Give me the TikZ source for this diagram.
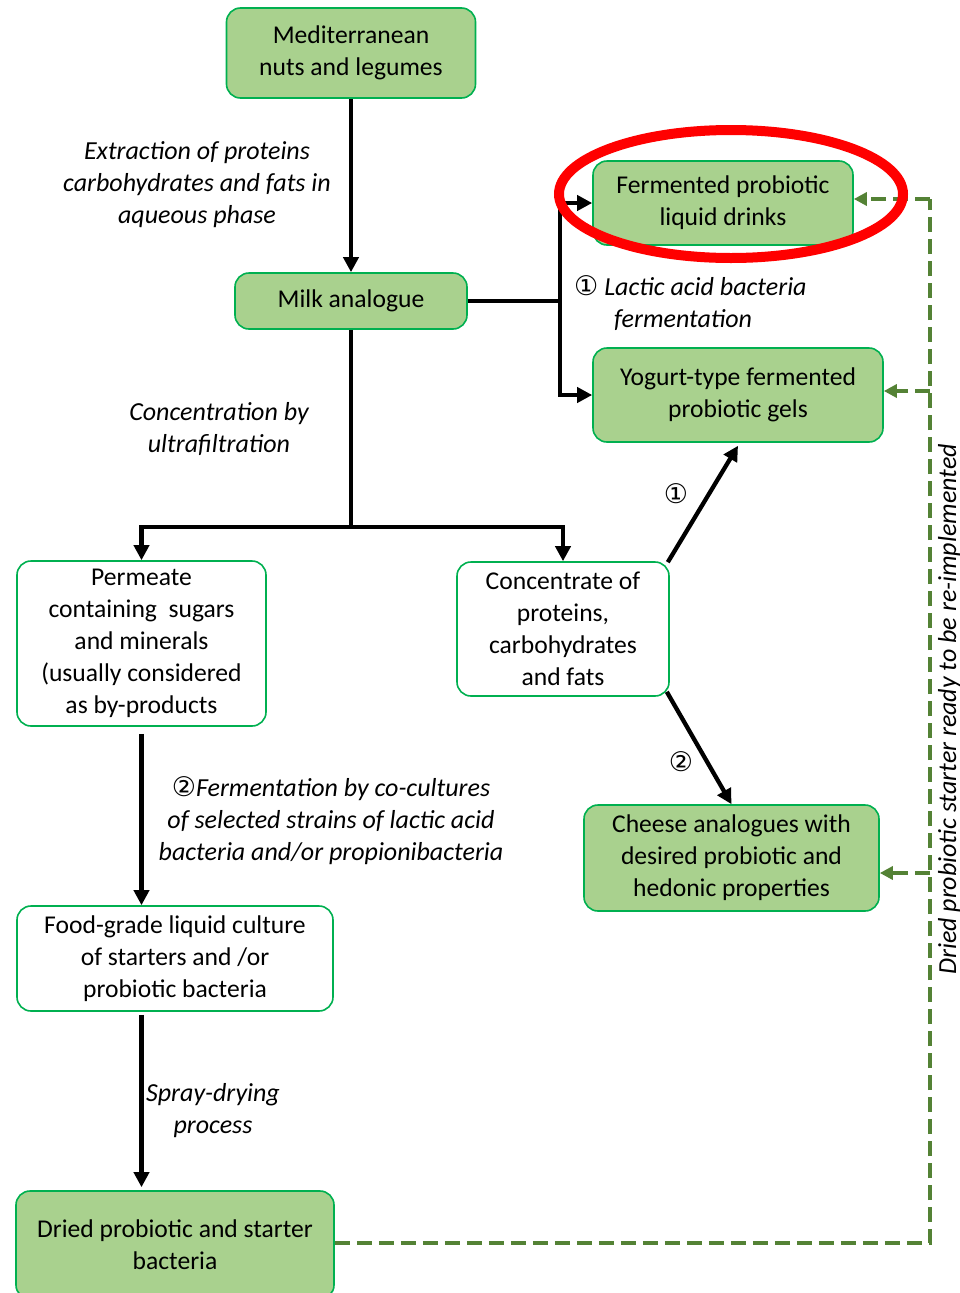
\documentclass[tikz,border=0pt]{standalone}
\usepackage{fontspec}
\setmainfont{Carlito}
\newfontfamily\circfont{DejaVu Sans}
\usetikzlibrary{arrows.meta}
\definecolor{boxgreen}{HTML}{A9D18E}
\definecolor{edgegreen}{HTML}{00B050}
\definecolor{dashgreen}{HTML}{548235}
\newcommand{\fsz}{\fontsize{25.6}{32}\selectfont}
\newcommand{\isz}{\fontsize{26}{32}\selectfont\itshape}
\newcommand{\cnum}[1]{{\circfont\fontsize{27}{32}\selectfont #1}}
\begin{document}
\begin{tikzpicture}[x=1pt,y=-1pt,
  gbox/.style={draw=edgegreen, line width=1.6pt, rounded corners=14pt, fill=boxgreen, align=center, inner sep=0pt, font=\fsz},
  wbox/.style={gbox, fill=white},
  arr/.style={line width=4.3pt, -{Triangle[length=15pt,width=15pt]}},
  plain/.style={line width=4.3pt},
  dsh/.style={draw=dashgreen, line width=4pt, dash pattern=on 15pt off 7pt},
  darr/.style={dsh, -{Triangle[length=13pt,width=13pt]}},
  lbl/.style={font=\isz, align=center, inner sep=0pt}
]
\useasboundingbox (0,0) rectangle (959,1293);
\clip (0,0) rectangle (959,1293);
% boxes
\node[gbox, minimum width=249pt, minimum height=90pt] (med) at (351,53) {Mediterranean\\nuts and legumes};
\node[gbox, minimum width=232pt, minimum height=56pt] (milk) at (351,301) {Milk analogue};
\node[gbox, minimum width=260pt, minimum height=84pt] (ferm) at (723,203) {Fermented probiotic\\liquid drinks};
\node[gbox, minimum width=290pt, minimum height=94pt] (yog) at (738,395) {Yogurt-type fermented\\probiotic gels};
\node[wbox, minimum width=249pt, minimum height=165pt] (perm) at (141.5,643.5) {Permeate\\containing\ \ sugars\\and minerals\\(usually considered\\as by-products};
\node[wbox, minimum width=212pt, minimum height=134pt] (conc) at (563,629) {Concentrate of\\proteins,\\carbohydrates\\and fats};
\node[gbox, minimum width=295pt, minimum height=106pt] (cheese) at (731.5,858) {Cheese analogues with\\desired probiotic and\\hedonic properties};
\node[wbox, minimum width=316pt, minimum height=105pt] (food) at (175,958.5) {Food-grade liquid culture\\of starters and /or\\probiotic bacteria};
\node[gbox, minimum width=318pt, minimum height=108pt] (dried) at (175,1245) {Dried probiotic and starter\\bacteria};
% coordinates
\coordinate (mb) at (560,301);
\coordinate (split) at (351,527);
\coordinate (dc1) at (930,1243);
\coordinate (dc2) at (930,199);
\coordinate (dy) at (930,391);
\coordinate (dch) at (930,873);
% connectors
\draw[arr] (med.south) -- (milk.north);
\draw[plain] (milk.east) -- (mb);
\draw[arr] (mb) |- (ferm.west);
\draw[arr] (mb) |- (yog.west);
\draw[plain] (milk.south) -- (split);
\draw[arr] (split) -| (perm.north);
\draw[arr] (split) -| (conc.north);
\draw[arr] ([xshift=-2pt,yshift=-1pt]conc.north east) -- ([yshift=-3pt]yog.south);
\draw[arr] ([xshift=-3pt,yshift=5pt]conc.south east) -- (cheese.north);
\draw[arr] ([yshift=-7pt]perm.south) -- (perm.south |- food.north);
\draw[arr] ([yshift=-3pt]food.south -| perm.south) -- ([yshift=3pt]dried.north -| perm.south);
% dashed return
\draw[dsh] (dried.east |- dc1) -- (dc1) -- (dc2);
\draw[darr] (dc2) -- (ferm.east |- dc2);
\draw[darr] (dy) -- (yog.east |- dy);
\draw[darr] (dch) -- (cheese.east |- dch);
% labels
\node[lbl] (l1) at (197,185) {Extraction of proteins\\carbohydrates and fats in\\aqueous phase};
\node[lbl, align=left, anchor=west] (l2) at (574,303.5) {\cnum{①} Lactic acid bacteria\\\hspace*{40pt}fermentation};
\node[lbl] (l3) at (219,429) {Concentration by\\ultrafiltration};
\node[lbl] (l4) at (676,494) {\cnum{①}};
\node[lbl] (l5) at (681,762) {\cnum{②}};
\node[lbl] (l6) at (331,821) {\cnum{②}Fermentation by co-cultures\\of selected strains of lactic acid\\bacteria and/or propionibacteria};
\node[lbl] (l7) at (213,1111) {Spray-drying\\process};
\node[font=\isz, rotate=90, anchor=base west, inner sep=0pt] (l8) at (956,975) {Dried probiotic starter ready to be re-implemented};
% red ellipse
\draw[red, line width=10pt] (731,194) ellipse [x radius=172pt, y radius=64pt];
\end{tikzpicture}
\end{document}
